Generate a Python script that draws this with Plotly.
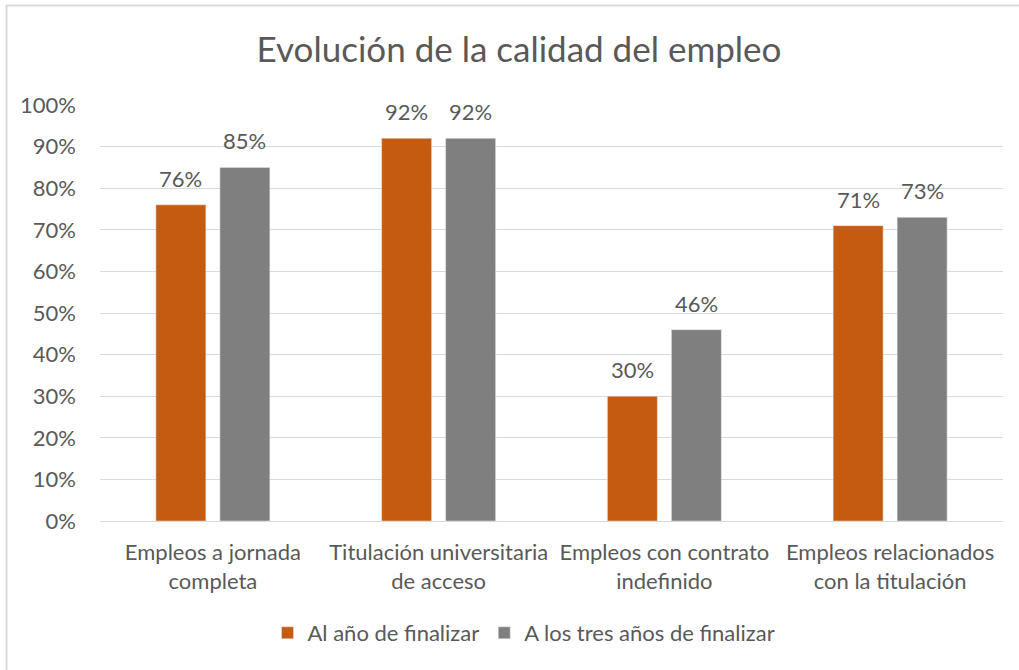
import plotly.graph_objects as go

categories = ["Empleos a jornada<br>completa", "Titulación universitaria<br>de acceso",
              "Empleos con contrato<br>indefinido", "Empleos relacionados<br>con la titulación"]
series_names = ["Al año de finalizar", "A los tres años de finalizar"]
al_anio = [0.76, 0.92, 0.30, 0.71]
tres_anios = [0.85, 0.92, 0.46, 0.73]
colors = ["#C55A11", "#7F7F7F"]

FONT = "Lato"
TXT = "#595959"
FS = 22

W, H = 1019, 670
L, R, T, B = 100, 16, 105, 149
pw, ph = W - L - R, H - T - B

def px(x):
    return (x - L) / pw

def py(y):
    return (H - B - y) / ph

fig = go.Figure()
annotations = []
for i, (name, vals, col) in enumerate(zip(series_names, [al_anio, tres_anios], colors)):
    fig.add_trace(go.Bar(x=categories, y=vals, name=name, marker_color=col))
    shift = -32 if i == 0 else 32
    for c, v in zip(categories, vals):
        annotations.append(dict(x=c, y=v, xref="x", yref="y", text=f"{v:.0%}",
                                showarrow=False, xshift=shift, yshift=11, yanchor="bottom",
                                font=dict(family=FONT, size=FS, color=TXT)))

fig.update_layout(
    width=W, height=H,
    margin=dict(l=L, r=R, t=T, b=B),
    paper_bgcolor="white", plot_bgcolor="white",
    barmode="group", bargap=0.433, bargroupgap=0.219,
    title=dict(text="Evolución de la calidad del empleo", x=519 / W, xanchor="center",
               y=1 - 50 / H, yanchor="middle",
               font=dict(family=FONT, size=35, color=TXT)),
    font=dict(family=FONT, color=TXT),
    xaxis=dict(tickfont=dict(family=FONT, size=FS, color=TXT), showgrid=False,
               showline=True, linecolor="#D9D9D9", ticks="", ticklabelstandoff=12),
    yaxis=dict(range=[0, 1], dtick=0.1, tickformat=".0%", showgrid=True,
               gridcolor="#D9D9D9", gridwidth=1, zeroline=False,
               tickfont=dict(family=FONT, size=FS, color=TXT), ticklabelstandoff=23),
    legend=dict(orientation="h", x=px(524), xanchor="center", y=py(633), yanchor="middle",
                font=dict(family=FONT, size=FS, color=TXT), itemwidth=30),
    showlegend=True,
    annotations=annotations,
    shapes=[
        dict(type="line", xref="paper", yref="paper", x0=px(6), x1=px(W), y0=py(5.5), y1=py(5.5),
             line=dict(color="#D9D9D9", width=2)),
        dict(type="line", xref="paper", yref="paper", x0=px(6.5), x1=px(6.5), y0=py(5), y1=py(H),
             line=dict(color="#D9D9D9", width=2)),
    ],
)

fig.write_html("out.html", config={"displayModeBar": False},
               post_script="document.body.style.margin='0';")
